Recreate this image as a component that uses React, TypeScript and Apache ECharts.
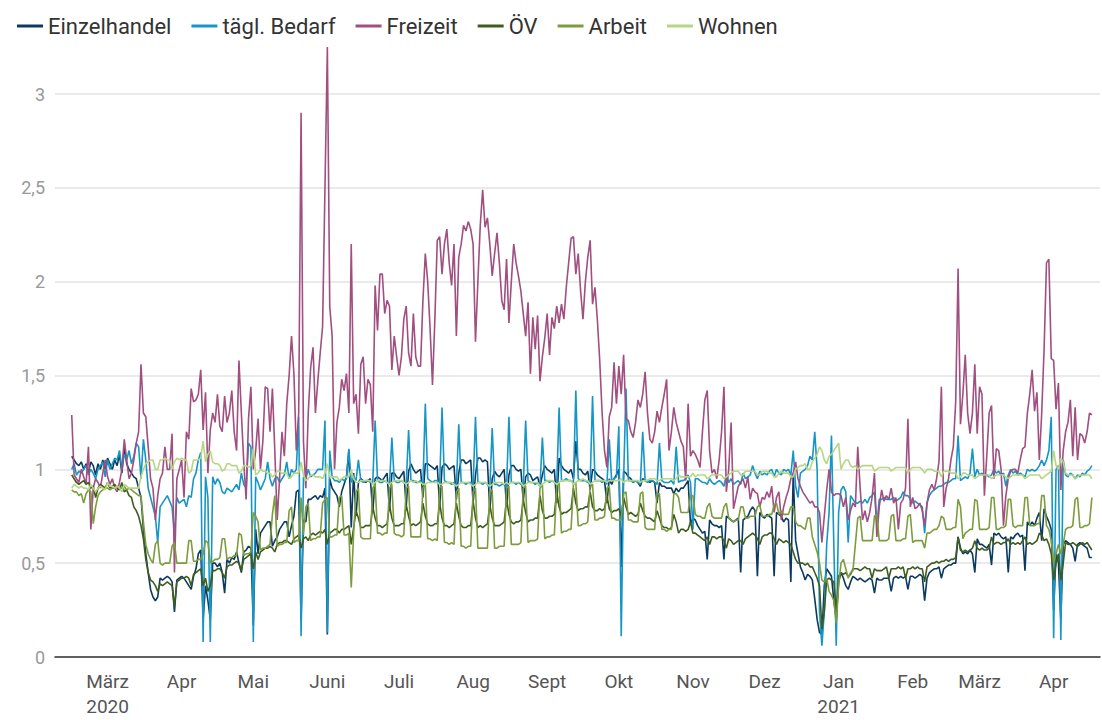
import React, { useEffect, useRef } from "react";
import * as echarts from "echarts";

// Day 0 = 15 Feb 2020, one value per day (428 days). Rows are weeks Sat..Sun..Fri.
const seriesNames = ["Einzelhandel", "tägl. Bedarf", "Freizeit", "ÖV", "Arbeit", "Wohnen"];
const seriesColors = ["#0c3a5e", "#1696c6", "#a04f80", "#3e5c1f", "#7d9c3d", "#b7d683"];

const tickDays = [15, 46, 76, 107, 137, 168, 199, 229, 260, 290, 321, 352, 380, 411];
const tickLabels = ["März\n2020", "Apr", "Mai", "Juni", "Juli", "Aug", "Sept", "Okt", "Nov", "Dez", "Jan\n2021", "Feb", "März", "Apr"];

const einzelhandel = [
  1.07, 1.05, 1.03, 1.02, 1.04, 1.00, 1.03,
  0.98, 1.04, 1.02, 0.97, 1.03, 1.00, 1.05,
  1.00, 1.06, 1.03, 1.00, 1.05, 1.02, 1.08,
  0.98, 1.12, 1.03, 1.00, 0.98, 0.96, 0.95,
  0.90, 0.85, 0.68, 0.55, 0.45, 0.36, 0.32,
  0.30, 0.32, 0.42, 0.41, 0.42, 0.43, 0.42,
  0.40, 0.24, 0.41, 0.42, 0.43, 0.42, 0.40,
  0.38, 0.36, 0.43, 0.47, 0.55, 0.57, 0.20,
  0.38, 0.30, 0.20, 0.50, 0.50, 0.48, 0.50,
  0.45, 0.34, 0.52, 0.50, 0.53, 0.52, 0.56,
  0.50, 0.45, 0.56, 0.57, 0.59, 0.58, 0.17,
  0.68, 0.55, 0.66, 0.68, 0.70, 0.72, 0.72,
  0.59, 0.62, 0.64, 0.68, 0.70, 0.72, 0.72,
  0.64, 0.70, 0.75, 0.88, 0.89, 0.20, 0.73,
  0.72, 0.84, 0.84, 0.85, 0.86, 0.84, 0.86,
  0.85, 0.90, 0.12, 0.95, 0.90, 0.88, 0.86,
  0.80, 0.88, 0.92, 0.96, 1.10, 0.69, 0.98,
  0.75, 0.93, 0.95, 0.94, 0.93, 0.94, 0.95,
  0.77, 0.95, 0.96, 0.95, 0.94, 0.96, 0.98,
  0.78, 0.98, 0.98, 0.96, 0.95, 0.97, 0.99,
  0.80, 0.99, 1.03, 1.00, 0.98, 0.99, 1.00,
  0.85, 1.03, 1.03, 1.02, 1.01, 1.00, 1.02,
  0.80, 1.01, 1.03, 1.02, 1.00, 1.01, 1.02,
  0.84, 0.98, 1.05, 1.05, 1.03, 1.04, 1.05,
  0.82, 0.97, 1.06, 1.06, 1.04, 1.05, 1.04,
  0.78, 0.95, 0.99, 0.97, 0.96, 0.98, 1.00,
  0.80, 0.97, 1.02, 1.02, 1.00, 0.99, 1.00,
  0.83, 0.96, 0.98, 0.97, 0.94, 0.95, 0.96,
  0.91, 0.97, 1.02, 1.00, 0.99, 0.98, 1.00,
  0.82, 1.06, 1.02, 1.00, 0.99, 0.98, 1.00,
  0.95, 1.15, 1.00, 1.00, 0.98, 0.97, 0.99,
  0.89, 1.00, 0.99, 0.97, 0.96, 0.95, 0.94,
  0.82, 0.95, 0.92, 0.95, 0.97, 1.00, 0.48,
  0.99, 0.98, 0.96, 0.95, 0.93, 0.94, 0.93,
  0.91, 0.95, 0.94, 0.94, 0.93, 0.94, 0.93,
  0.82, 0.93, 0.91, 0.91, 0.90, 0.90, 0.90,
  0.87, 0.90, 0.88, 0.90, 0.90, 0.92, 0.94,
  0.71, 0.74, 0.73, 0.70, 0.68, 0.66, 0.67,
  0.52, 0.73, 0.71, 0.70, 0.70, 0.69, 0.70,
  0.52, 0.75, 0.74, 0.73, 0.72, 0.73, 0.74,
  0.45, 0.73, 0.74, 0.75, 0.78, 0.80, 0.78,
  0.43, 0.77, 0.75, 0.74, 0.76, 0.75, 0.74,
  0.43, 0.77, 0.76, 0.75, 0.72, 0.74, 0.73,
  0.40, 0.98, 0.62, 0.55, 0.48, 0.45, 0.41,
  0.44, 0.43, 0.41, 0.31, 0.20, 0.13, 0.12,
  0.38, 0.47, 0.45, 0.43, 0.30, 0.20, 0.40,
  0.45, 0.42, 0.38, 0.36, 0.40, 0.43, 0.42,
  0.41, 0.42, 0.41, 0.40, 0.41, 0.42, 0.41,
  0.34, 0.42, 0.41, 0.41, 0.42, 0.42, 0.42,
  0.35, 0.42, 0.43, 0.42, 0.43, 0.42, 0.43,
  0.36, 0.43, 0.43, 0.42, 0.43, 0.44, 0.43,
  0.30, 0.42, 0.45, 0.46, 0.47, 0.47, 0.48,
  0.42, 0.47, 0.48, 0.49, 0.49, 0.50, 0.50,
  0.64, 0.58, 0.55, 0.56, 0.55, 0.57, 0.55,
  0.45, 0.63, 0.60, 0.60, 0.59, 0.58, 0.60,
  0.49, 0.66, 0.65, 0.66, 0.64, 0.63, 0.64,
  0.45, 0.64, 0.63, 0.65, 0.66, 0.64, 0.65,
  0.46, 0.72, 0.70, 0.72, 0.70, 0.74, 0.77,
  0.62, 0.79, 0.75, 0.72, 0.68, 0.25, 0.55,
  0.50, 0.20, 0.60, 0.62, 0.61, 0.60, 0.58,
  0.51, 0.60, 0.61, 0.60, 0.59, 0.58, 0.53,
  0.53,
];

const taeglBedarf = [
  1.00, 1.03, 0.97, 0.99, 0.98, 1.00, 1.02,
  0.97, 1.00, 0.98, 0.95, 1.00, 1.02, 1.04,
  0.96, 1.05, 1.00, 1.03, 1.06, 1.05, 1.10,
  1.00, 1.08, 1.05, 1.10, 1.03, 1.07, 1.14,
  1.12, 0.95, 1.16, 1.05, 0.90, 0.85, 0.80,
  0.75, 0.61, 0.80, 0.82, 0.84, 0.86, 0.83,
  0.80, 0.65, 0.85, 0.82, 0.83, 0.84, 0.80,
  0.86, 0.85, 0.95, 0.98, 1.05, 1.09, 0.08,
  0.96, 0.85, 0.08, 0.96, 0.92, 0.95, 0.93,
  0.88, 0.87, 0.90, 0.89, 0.88, 0.90, 0.92,
  0.89, 0.98, 0.92, 0.90, 1.14, 1.12, 0.08,
  0.96, 0.93, 0.89, 0.92, 0.95, 1.04, 0.95,
  0.91, 0.95, 0.96, 0.93, 0.95, 0.97, 1.04,
  0.95, 1.00, 0.98, 1.00, 1.28, 0.11, 0.96,
  0.95, 1.00, 0.96, 0.97, 0.98, 1.00, 1.00,
  1.00, 1.26, 0.13, 1.10, 0.96, 0.94, 0.94,
  0.93, 0.95, 0.94, 0.95, 1.11, 0.93, 0.96,
  0.94, 1.05, 0.94, 0.93, 0.94, 0.94, 0.93,
  0.93, 1.26, 0.94, 0.93, 0.93, 0.94, 0.93,
  0.92, 1.17, 0.94, 0.93, 0.93, 0.94, 0.93,
  0.92, 1.21, 0.94, 0.94, 0.93, 0.93, 0.94,
  0.92, 1.35, 0.95, 0.94, 0.93, 0.94, 0.94,
  0.92, 1.33, 0.94, 0.93, 0.93, 0.92, 0.93,
  0.91, 1.24, 0.93, 0.93, 0.92, 0.93, 0.93,
  0.91, 1.28, 0.93, 0.93, 0.92, 0.93, 0.92,
  0.90, 1.22, 0.92, 0.92, 0.91, 0.92, 0.92,
  0.90, 1.28, 0.93, 0.93, 0.92, 0.93, 0.92,
  0.91, 1.26, 0.94, 0.93, 0.93, 0.92, 0.93,
  0.91, 1.17, 0.94, 0.94, 0.93, 0.94, 0.93,
  0.92, 1.33, 0.94, 0.94, 0.95, 0.94, 0.94,
  0.93, 1.42, 0.95, 0.94, 0.94, 0.94, 0.93,
  0.93, 1.39, 0.94, 0.94, 0.94, 0.93, 0.94,
  0.92, 1.16, 0.94, 0.95, 0.96, 1.23, 0.11,
  0.95, 1.43, 0.94, 0.94, 0.93, 0.94, 0.93,
  0.92, 1.20, 0.94, 0.93, 0.94, 0.94, 0.93,
  0.92, 1.14, 0.94, 0.93, 0.93, 0.93, 0.94,
  0.92, 1.12, 0.93, 0.94, 0.94, 0.95, 0.97,
  0.93, 0.68, 0.95, 0.95, 0.94, 0.93, 0.93,
  0.92, 0.95, 0.93, 0.92, 0.93, 0.94, 0.93,
  0.91, 0.97, 0.93, 0.95, 0.92, 0.93, 0.94,
  0.92, 0.98, 0.95, 0.96, 0.97, 1.02, 0.98,
  0.95, 0.99, 0.97, 0.98, 0.97, 0.99, 1.00,
  0.96, 1.00, 0.98, 0.97, 1.00, 0.99, 1.00,
  0.97, 1.10, 0.91, 0.85, 0.98, 0.99, 1.00,
  1.02, 1.07, 1.05, 1.20, 1.00, 0.24, 0.06,
  0.24, 0.60, 0.77, 1.18, 0.59, 0.06, 0.77,
  0.89, 0.91, 0.88, 0.61, 0.86, 0.84, 0.82,
  0.82, 0.83, 0.82, 0.84, 0.82, 0.85, 0.86,
  0.88, 0.70, 0.84, 0.84, 0.85, 0.84, 0.84,
  0.84, 0.85, 0.83, 0.84, 0.85, 0.88, 0.86,
  0.86, 0.84, 0.82, 0.83, 0.82, 0.81, 0.80,
  0.66, 0.82, 0.86, 0.88, 0.89, 0.90, 0.91,
  0.91, 0.92, 0.93, 0.93, 0.94, 0.95, 0.95,
  1.18, 0.94, 0.95, 0.96, 0.95, 0.98, 1.11,
  0.96, 1.00, 0.97, 0.98, 0.96, 0.97, 0.96,
  0.97, 1.00, 0.98, 0.99, 0.97, 0.98, 0.91,
  0.97, 1.00, 0.98, 0.99, 0.97, 0.98, 0.97,
  0.96, 1.00, 0.99, 1.00, 0.99, 1.00, 1.02,
  1.05, 1.02, 1.05, 1.10, 1.28, 0.10, 1.00,
  1.02, 0.09, 1.05, 0.97, 0.96, 0.98, 0.97,
  0.95, 0.97, 0.96, 0.98, 0.97, 0.99, 1.00,
  1.02,
];

const freizeit = [
  1.29, 0.97, 0.95, 0.93, 1.00, 0.96, 0.92,
  1.12, 0.68, 0.90, 0.95, 0.93, 0.90, 0.98,
  1.05, 0.96, 0.92, 0.95, 0.90, 0.88, 0.93,
  1.00, 1.16, 1.05, 0.95, 0.98, 1.05, 1.14,
  1.20, 1.56, 1.30, 1.28, 1.12, 0.95, 0.90,
  0.73, 0.86, 0.95, 0.98, 1.12, 1.00, 1.00,
  1.19, 0.45, 0.95, 1.00, 1.05, 0.85, 1.20,
  1.16, 1.43, 1.36, 1.37, 1.40, 1.53, 1.21,
  1.41, 0.98, 1.21, 1.30, 1.25, 1.40, 1.23,
  1.20, 1.39, 1.25, 1.30, 1.42, 1.20, 1.10,
  1.58, 1.30, 1.04, 0.84, 1.27, 1.44, 1.00,
  1.10, 1.27, 1.00, 1.15, 1.44, 1.43, 1.20,
  1.43, 1.10, 0.73, 0.95, 1.20, 1.07, 1.35,
  1.50, 1.71, 1.51, 1.10, 1.30, 2.90, 1.15,
  0.90, 1.30, 1.54, 1.65, 1.30, 1.47, 1.62,
  1.76, 2.50, 3.25, 1.87, 1.71, 1.00, 1.25,
  1.33, 1.48, 1.42, 1.51, 1.30, 2.20, 1.35,
  1.40, 1.19, 1.56, 1.60, 1.35, 1.48, 1.45,
  1.20, 1.98, 1.74, 2.04, 2.04, 1.83, 1.90,
  1.87, 1.53, 1.71, 1.60, 1.50, 1.60, 1.80,
  1.87, 1.62, 1.55, 1.83, 1.60, 1.55, 1.55,
  1.90, 2.15, 2.00, 1.75, 1.45, 1.80, 2.22,
  2.24, 2.04, 2.20, 2.28, 2.10, 1.98, 2.20,
  1.71, 2.13, 2.20, 2.30, 2.27, 2.32, 2.28,
  2.20, 1.68, 2.00, 2.30, 2.49, 2.29, 2.34,
  2.20, 2.03, 2.15, 2.26, 2.10, 1.90, 1.85,
  2.12, 1.78, 2.00, 2.20, 2.10, 2.03, 1.95,
  1.83, 1.71, 1.89, 1.51, 1.81, 1.64, 1.82,
  1.47, 1.60, 1.70, 1.83, 1.61, 1.81, 1.75,
  1.87, 1.78, 1.88, 1.80, 1.97, 2.10, 2.23,
  2.24, 2.04, 2.15, 1.95, 1.80, 2.00, 2.13,
  2.22, 1.88, 1.97, 1.80, 1.58, 1.30, 1.10,
  1.01, 1.28, 1.33, 1.57, 1.35, 1.55, 1.40,
  1.61, 1.27, 1.26, 1.20, 1.17, 1.25, 1.37,
  1.33, 1.40, 1.52, 1.30, 1.16, 1.14, 1.20,
  1.31, 1.25, 1.33, 1.40, 1.48, 1.10, 1.20,
  1.33, 1.25, 1.20, 1.15, 1.12, 0.94, 1.35,
  1.07, 1.10, 1.08, 1.05, 1.01, 1.20, 1.37,
  1.42, 1.10, 0.98, 1.00, 0.95, 1.05, 1.20,
  1.44, 0.88, 1.00, 1.25, 0.79, 0.85, 0.91,
  0.93, 0.95, 0.90, 0.96, 0.84, 0.90, 0.88,
  0.87, 0.80, 0.85, 0.84, 0.88, 0.85, 0.91,
  0.77, 0.85, 0.88, 0.73, 0.80, 0.85, 0.89,
  0.95, 0.98, 1.04, 0.95, 0.91, 0.88, 0.86,
  0.84, 0.82, 0.83, 0.80, 0.80, 0.77, 0.61,
  0.75, 0.89, 1.00, 0.88, 0.86, 0.87, 0.87,
  0.86, 0.80, 0.85, 0.73, 0.78, 0.82, 0.80,
  1.12, 0.90, 0.73, 0.78, 0.72, 0.77, 0.85,
  0.98, 0.64, 0.80, 0.89, 0.83, 0.86, 0.84,
  0.90, 0.82, 0.85, 0.68, 0.82, 0.84, 0.90,
  1.27, 0.80, 0.85, 0.79, 0.80, 0.82, 0.78,
  0.70, 0.82, 0.89, 0.92, 0.89, 0.95, 1.04,
  1.44, 0.80, 0.90, 0.95, 1.05, 1.12, 1.36,
  2.07, 1.24, 1.40, 1.61, 1.30, 1.19, 1.30,
  1.56, 1.19, 1.44, 1.40, 0.86, 1.07, 1.30,
  1.34, 0.95, 1.11, 1.10, 1.00, 0.70, 0.86,
  0.95, 0.99, 1.00, 1.00, 0.98, 1.05, 1.11,
  1.12, 1.30, 1.40, 1.53, 1.31, 1.41, 1.05,
  1.30, 1.64, 2.10, 2.12, 1.59, 1.58, 1.32,
  1.46, 0.89, 1.10, 1.20, 1.25, 1.37, 1.07,
  1.33, 1.05, 1.19, 1.18, 1.14, 1.20, 1.30,
  1.29,
];

const oev = [
  0.97, 0.95, 0.93, 0.92, 0.93, 0.94, 0.92,
  0.93, 0.90, 0.91, 0.85, 0.90, 0.92, 0.91,
  0.90, 0.93, 0.90, 0.91, 0.92, 0.90, 0.89,
  0.93, 0.88, 0.89, 0.86, 0.85, 0.80, 0.78,
  0.75, 0.70, 0.63, 0.52, 0.45, 0.41, 0.40,
  0.38, 0.35, 0.39, 0.38, 0.39, 0.40, 0.39,
  0.38, 0.27, 0.40, 0.41, 0.42, 0.42, 0.43,
  0.42, 0.38, 0.44, 0.45, 0.46, 0.47, 0.38,
  0.42, 0.35, 0.38, 0.46, 0.46, 0.47, 0.47,
  0.45, 0.42, 0.48, 0.49, 0.49, 0.50, 0.51,
  0.50, 0.46, 0.52, 0.53, 0.54, 0.55, 0.47,
  0.56, 0.52, 0.56, 0.57, 0.58, 0.58, 0.59,
  0.58, 0.56, 0.60, 0.61, 0.61, 0.62, 0.62,
  0.61, 0.60, 0.63, 0.64, 0.65, 0.58, 0.63,
  0.64, 0.62, 0.65, 0.66, 0.65, 0.66, 0.67,
  0.66, 0.68, 0.60, 0.66, 0.67, 0.68, 0.68,
  0.66, 0.68, 0.68, 0.69, 0.70, 0.60, 0.69,
  0.78, 0.74, 0.69, 0.69, 0.70, 0.70, 0.70,
  0.80, 0.74, 0.70, 0.70, 0.69, 0.70, 0.71,
  0.81, 0.74, 0.70, 0.70, 0.70, 0.71, 0.71,
  0.81, 0.75, 0.70, 0.71, 0.70, 0.71, 0.72,
  0.82, 0.75, 0.71, 0.70, 0.70, 0.71, 0.71,
  0.82, 0.74, 0.70, 0.70, 0.69, 0.70, 0.71,
  0.82, 0.75, 0.70, 0.69, 0.69, 0.70, 0.70,
  0.83, 0.74, 0.69, 0.70, 0.69, 0.70, 0.71,
  0.81, 0.74, 0.70, 0.70, 0.70, 0.71, 0.72,
  0.84, 0.76, 0.72, 0.71, 0.72, 0.72, 0.73,
  0.84, 0.77, 0.72, 0.73, 0.73, 0.74, 0.74,
  0.86, 0.78, 0.74, 0.74, 0.75, 0.75, 0.76,
  0.88, 0.80, 0.76, 0.77, 0.77, 0.78, 0.79,
  0.90, 0.82, 0.78, 0.79, 0.79, 0.80, 0.80,
  0.88, 0.80, 0.78, 0.78, 0.79, 0.78, 0.79,
  0.86, 0.79, 0.77, 0.78, 0.78, 0.79, 0.75,
  0.85, 0.80, 0.76, 0.77, 0.76, 0.75, 0.76,
  0.82, 0.78, 0.75, 0.74, 0.74, 0.73, 0.72,
  0.78, 0.74, 0.70, 0.69, 0.69, 0.68, 0.69,
  0.76, 0.72, 0.66, 0.68, 0.68, 0.67, 0.68,
  0.72, 0.66, 0.66, 0.65, 0.64, 0.63, 0.62,
  0.64, 0.60, 0.64, 0.64, 0.63, 0.64, 0.64,
  0.62, 0.58, 0.63, 0.62, 0.60, 0.61, 0.62,
  0.62, 0.60, 0.63, 0.64, 0.65, 0.66, 0.65,
  0.63, 0.60, 0.64, 0.65, 0.65, 0.66, 0.66,
  0.63, 0.60, 0.63, 0.62, 0.61, 0.62, 0.61,
  0.60, 0.56, 0.52, 0.50, 0.50, 0.50, 0.49,
  0.50, 0.48, 0.48, 0.45, 0.42, 0.38, 0.15,
  0.24, 0.41, 0.42, 0.41, 0.40, 0.24, 0.43,
  0.45, 0.44, 0.45, 0.43, 0.44, 0.47, 0.47,
  0.47, 0.46, 0.47, 0.48, 0.47, 0.47, 0.42,
  0.47, 0.46, 0.46, 0.46, 0.47, 0.48, 0.42,
  0.47, 0.47, 0.47, 0.48, 0.47, 0.48, 0.42,
  0.47, 0.47, 0.48, 0.47, 0.48, 0.47, 0.47,
  0.40, 0.48, 0.49, 0.50, 0.50, 0.51, 0.50,
  0.51, 0.51, 0.52, 0.51, 0.52, 0.52, 0.53,
  0.64, 0.57, 0.56, 0.57, 0.56, 0.57, 0.58,
  0.62, 0.58, 0.57, 0.58, 0.57, 0.57, 0.58,
  0.64, 0.60, 0.61, 0.61, 0.60, 0.61, 0.61,
  0.63, 0.60, 0.61, 0.60, 0.61, 0.60, 0.62,
  0.64, 0.60, 0.61, 0.60, 0.61, 0.62, 0.66,
  0.65, 0.62, 0.63, 0.60, 0.55, 0.41, 0.50,
  0.55, 0.41, 0.50, 0.61, 0.60, 0.60, 0.61,
  0.60, 0.59, 0.60, 0.61, 0.60, 0.61, 0.59,
  0.57,
];

const arbeit = [
  0.89, 0.88, 0.88, 0.86, 0.87, 0.82, 0.87,
  0.89, 0.88, 0.71, 0.80, 0.86, 0.88, 0.89,
  0.90, 0.90, 0.89, 0.90, 0.90, 0.91, 0.90,
  0.90, 0.91, 0.89, 0.90, 0.89, 0.88, 0.87,
  0.86, 0.86, 0.72, 0.60, 0.55, 0.52, 0.50,
  0.60, 0.62, 0.50, 0.49, 0.50, 0.50, 0.50,
  0.59, 0.61, 0.50, 0.50, 0.50, 0.50, 0.50,
  0.62, 0.62, 0.51, 0.51, 0.52, 0.52, 0.55,
  0.62, 0.61, 0.50, 0.51, 0.52, 0.52, 0.53,
  0.63, 0.63, 0.52, 0.53, 0.53, 0.54, 0.54,
  0.66, 0.65, 0.54, 0.55, 0.55, 0.56, 0.77,
  0.75, 0.72, 0.57, 0.58, 0.58, 0.59, 0.60,
  0.76, 0.86, 0.59, 0.60, 0.60, 0.61, 0.61,
  0.78, 0.80, 0.61, 0.62, 0.62, 0.85, 0.65,
  0.80, 0.82, 0.62, 0.63, 0.63, 0.64, 0.64,
  0.82, 0.84, 0.85, 0.64, 0.64, 0.65, 0.65,
  0.85, 0.86, 0.65, 0.65, 0.66, 0.37, 0.66,
  0.88, 0.90, 0.64, 0.63, 0.63, 0.63, 0.63,
  0.90, 0.92, 0.66, 0.66, 0.65, 0.66, 0.66,
  0.90, 0.92, 0.66, 0.65, 0.65, 0.64, 0.65,
  0.90, 0.91, 0.64, 0.64, 0.64, 0.64, 0.64,
  0.90, 0.92, 0.63, 0.63, 0.62, 0.63, 0.62,
  0.90, 0.91, 0.61, 0.61, 0.60, 0.61, 0.60,
  0.88, 0.90, 0.59, 0.59, 0.58, 0.59, 0.59,
  0.88, 0.90, 0.58, 0.58, 0.58, 0.58, 0.58,
  0.88, 0.89, 0.58, 0.58, 0.59, 0.59, 0.59,
  0.90, 0.91, 0.60, 0.60, 0.60, 0.60, 0.61,
  0.90, 0.91, 0.61, 0.62, 0.62, 0.62, 0.63,
  0.90, 0.92, 0.63, 0.64, 0.64, 0.65, 0.65,
  0.91, 0.93, 0.66, 0.67, 0.67, 0.68, 0.68,
  0.92, 0.93, 0.70, 0.70, 0.71, 0.71, 0.72,
  0.91, 0.92, 0.73, 0.73, 0.74, 0.74, 0.75,
  0.90, 0.91, 0.74, 0.74, 0.73, 0.73, 0.73,
  0.87, 0.88, 0.73, 0.73, 0.72, 0.72, 0.72,
  0.87, 0.88, 0.69, 0.68, 0.68, 0.68, 0.68,
  0.87, 0.87, 0.68, 0.68, 0.67, 0.68, 0.68,
  0.87, 0.87, 0.85, 0.77, 0.77, 0.77, 0.77,
  0.86, 0.86, 0.76, 0.75, 0.75, 0.74, 0.74,
  0.80, 0.82, 0.75, 0.74, 0.74, 0.74, 0.74,
  0.80, 0.82, 0.74, 0.73, 0.72, 0.73, 0.73,
  0.80, 0.80, 0.74, 0.74, 0.75, 0.75, 0.75,
  0.80, 0.81, 0.75, 0.75, 0.75, 0.76, 0.76,
  0.81, 0.82, 0.76, 0.78, 0.76, 0.76, 0.76,
  0.80, 0.80, 0.72, 0.70, 0.70, 0.69, 0.68,
  0.74, 0.74, 0.64, 0.60, 0.56, 0.50, 0.41,
  0.40, 0.42, 0.35, 0.33, 0.30, 0.18, 0.38,
  0.50, 0.52, 0.47, 0.42, 0.45, 0.46, 0.60,
  0.74, 0.75, 0.62, 0.62, 0.62, 0.62, 0.62,
  0.75, 0.76, 0.62, 0.62, 0.62, 0.62, 0.63,
  0.75, 0.76, 0.62, 0.62, 0.62, 0.63, 0.63,
  0.75, 0.76, 0.61, 0.62, 0.62, 0.62, 0.62,
  0.58, 0.66, 0.66, 0.67, 0.68, 0.68, 0.70,
  0.75, 0.74, 0.68, 0.68, 0.68, 0.69, 0.69,
  0.84, 0.80, 0.63, 0.66, 0.67, 0.68, 0.68,
  0.84, 0.83, 0.68, 0.68, 0.68, 0.68, 0.69,
  0.85, 0.85, 0.68, 0.68, 0.69, 0.69, 0.70,
  0.84, 0.84, 0.70, 0.69, 0.70, 0.70, 0.70,
  0.85, 0.85, 0.70, 0.70, 0.70, 0.71, 0.71,
  0.86, 0.86, 0.70, 0.68, 0.62, 0.50, 0.55,
  0.60, 0.55, 0.60, 0.68, 0.69, 0.69, 0.70,
  0.84, 0.85, 0.69, 0.69, 0.70, 0.70, 0.71,
  0.85,
];

const wohnen = [
  0.90, 0.92, 0.91, 0.90, 0.91, 0.90, 0.90,
  0.89, 0.92, 0.90, 0.88, 0.90, 0.91, 0.90,
  0.89, 0.93, 0.91, 0.91, 0.90, 0.91, 0.90,
  0.88, 0.92, 0.91, 0.90, 0.90, 0.90, 0.90,
  0.90, 0.96, 1.00, 1.03, 1.04, 1.05, 1.05,
  1.00, 1.00, 1.05, 1.05, 1.06, 1.05, 1.05,
  1.00, 1.04, 1.06, 1.05, 1.06, 1.05, 1.05,
  0.98, 0.99, 1.05, 1.05, 1.05, 1.06, 1.15,
  1.04, 1.08, 1.10, 1.04, 1.03, 1.03, 1.02,
  0.99, 1.00, 1.03, 1.03, 1.02, 1.02, 1.02,
  0.98, 0.99, 1.02, 1.02, 1.01, 1.02, 1.11,
  0.97, 0.98, 1.00, 0.99, 0.99, 0.98, 0.98,
  0.96, 0.97, 0.99, 0.99, 0.98, 0.98, 0.98,
  0.95, 0.96, 0.98, 0.98, 0.98, 1.04, 0.97,
  0.94, 0.95, 0.97, 0.97, 0.96, 0.96, 0.96,
  0.95, 0.98, 1.03, 0.96, 0.96, 0.96, 0.96,
  0.94, 0.95, 0.96, 0.96, 0.96, 1.00, 0.95,
  0.93, 0.93, 0.94, 0.94, 0.94, 0.94, 0.94,
  0.92, 0.93, 0.94, 0.94, 0.94, 0.94, 0.93,
  0.92, 0.93, 0.94, 0.94, 0.94, 0.94, 0.93,
  0.92, 0.93, 0.94, 0.93, 0.94, 0.93, 0.93,
  0.92, 0.92, 0.93, 0.93, 0.93, 0.93, 0.93,
  0.92, 0.92, 0.93, 0.93, 0.93, 0.93, 0.92,
  0.91, 0.92, 0.93, 0.93, 0.93, 0.93, 0.92,
  0.91, 0.92, 0.93, 0.93, 0.93, 0.93, 0.92,
  0.91, 0.92, 0.93, 0.93, 0.93, 0.93, 0.92,
  0.93, 0.92, 0.93, 0.93, 0.93, 0.93, 0.93,
  0.91, 0.92, 0.93, 0.93, 0.93, 0.93, 0.93,
  0.91, 0.92, 0.93, 0.94, 0.94, 0.94, 0.93,
  0.92, 0.93, 0.94, 0.94, 0.94, 0.94, 0.94,
  0.92, 0.93, 0.94, 0.94, 0.95, 0.94, 0.94,
  0.92, 0.93, 0.94, 0.94, 0.94, 0.94, 0.94,
  0.93, 0.94, 0.94, 0.94, 0.94, 0.94, 0.95,
  0.93, 0.94, 0.94, 0.94, 0.94, 0.94, 0.94,
  0.93, 0.94, 0.94, 0.94, 0.95, 0.95, 0.95,
  0.94, 0.94, 0.95, 0.95, 0.95, 0.95, 0.95,
  0.94, 0.95, 0.97, 0.96, 0.96, 0.96, 0.96,
  0.96, 0.98, 0.96, 0.97, 0.97, 0.97, 0.97,
  0.95, 0.96, 0.97, 0.97, 0.97, 0.97, 0.97,
  0.95, 0.96, 0.97, 0.98, 0.99, 0.99, 0.99,
  0.97, 0.97, 0.99, 0.99, 0.99, 0.99, 0.99,
  0.97, 0.97, 0.99, 0.99, 0.99, 0.98, 0.98,
  0.96, 0.96, 0.98, 0.99, 0.98, 0.98, 0.98,
  0.96, 0.96, 1.00, 1.01, 1.02, 1.02, 1.03,
  1.00, 1.00, 1.04, 1.06, 1.08, 1.12, 1.10,
  1.05, 1.03, 1.07, 1.08, 1.10, 1.12, 1.14,
  1.00, 1.03, 1.05, 1.05, 1.02, 1.01, 1.02,
  1.00, 1.01, 1.02, 1.02, 1.02, 1.02, 1.02,
  0.99, 1.00, 1.01, 1.01, 1.01, 1.01, 1.01,
  0.99, 1.00, 1.01, 1.01, 1.01, 1.01, 1.01,
  0.98, 1.00, 1.01, 1.01, 1.01, 1.01, 1.00,
  0.98, 1.00, 1.00, 1.00, 0.99, 0.99, 0.99,
  0.96, 0.99, 0.99, 0.99, 0.98, 0.98, 0.98,
  0.95, 0.96, 0.98, 0.98, 0.97, 0.97, 0.97,
  0.95, 0.96, 0.97, 0.97, 0.97, 0.97, 0.97,
  0.95, 0.96, 0.97, 0.97, 0.97, 0.97, 0.96,
  0.95, 0.96, 0.97, 0.97, 0.97, 0.97, 0.97,
  0.95, 0.96, 0.97, 0.97, 0.97, 0.97, 0.97,
  0.95, 0.96, 0.97, 0.98, 0.99, 1.10, 1.02,
  1.00, 1.06, 1.04, 0.98, 0.97, 0.97, 0.97,
  0.95, 0.96, 0.97, 0.97, 0.97, 0.97, 0.97,
  0.95,
];

const allValues = [einzelhandel, taeglBedarf, freizeit, oev, arbeit, wohnen];

export default function App() {
  const ref = useRef<HTMLDivElement>(null);

  useEffect(() => {
    if (!ref.current) return;
    const chart = echarts.init(ref.current, null, { renderer: "svg" });
    const font = "Roboto, 'Noto Sans', sans-serif";
    chart.setOption({
      animation: false,
      backgroundColor: "#ffffff",
      textStyle: { fontFamily: font },
      legend: {
        top: 10,
        left: 12,
        icon: "rect",
        itemWidth: 26,
        itemHeight: 3,
        itemGap: 20,
        textStyle: { fontSize: 22, color: "#333", fontFamily: font },
        data: seriesNames,
      },
      grid: { left: 55, right: 2, top: 94, bottom: 63, containLabel: false, outerBoundsMode: "none" },
      xAxis: {
        type: "value",
        min: -7,
        max: 430.4,
        axisLine: { show: true, onZero: false, lineStyle: { color: "#333", width: 1.5 } },
        axisTick: { show: false },
        splitLine: { show: false },
        axisLabel: {
          customValues: tickDays,
          formatter: (v: number) => {
            const k = tickDays.indexOf(Math.round(v));
            return k >= 0 ? tickLabels[k] : "";
          },
          color: "#555",
          fontSize: 19,
          lineHeight: 25,
          margin: 12,
          fontFamily: font,
        },
      },
      yAxis: {
        type: "value",
        min: 0,
        max: 3,
        interval: 0.5,
        axisLine: { show: false },
        axisTick: { show: false },
        splitLine: { lineStyle: { color: "#e3e3e3", width: 1.5 } },
        axisLabel: {
          formatter: (v: number) => String(v).replace(".", ","),
          color: "#999",
          fontSize: 18,
          margin: 10,
          fontFamily: font,
        },
      },
      series: seriesNames.map((name, s) => ({
        name,
        type: "line",
        data: allValues[s].map((v, i) => [i, v]),
        showSymbol: false,
        symbol: "none",
        clip: false,
        color: seriesColors[s],
        lineStyle: { width: 1.6, color: seriesColors[s] },
        emphasis: { disabled: true },
      })),
    });
    return () => chart.dispose();
  }, []);

  return <div ref={ref} style={{ position: "fixed", left: 0, top: 0, width: 1102, height: 720 }} />;
}
